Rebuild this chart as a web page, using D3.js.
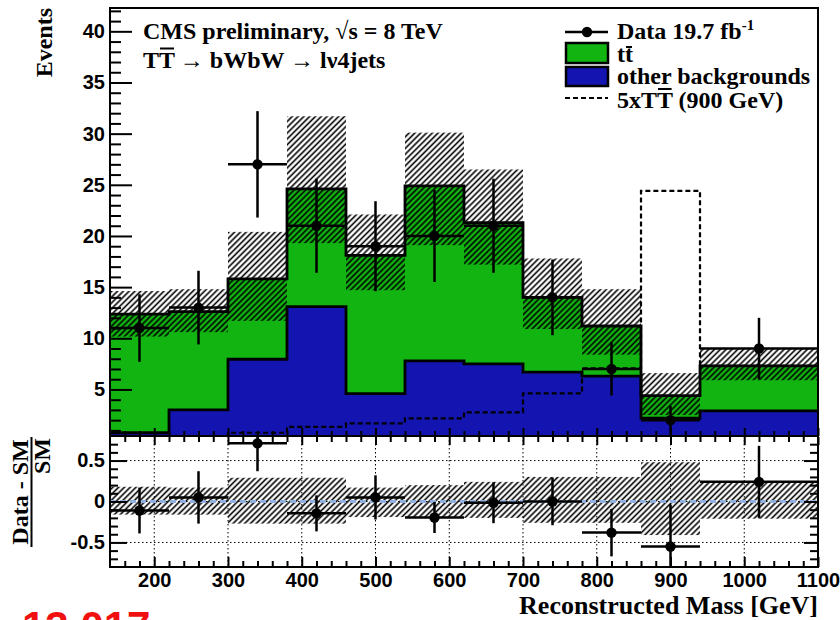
<!DOCTYPE html>
<html><head><meta charset="utf-8">
<script src="https://cdn.jsdelivr.net/npm/d3@7"></script>
<style>body{margin:0;background:#fff}svg{display:block}</style>
</head><body>
<svg id="c" width="840" height="620"></svg>
<script>
// Reconstructed T-quark mass, l+jets channel
const binEdges   = [140, 220, 300, 380, 460, 540, 620, 700, 780, 860, 940, 1100];
const otherBkg   = [0.77, 3.0, 7.95, 13.1, 4.6, 7.8, 7.5, 6.7, 6.3, 2.2, 2.9];
const ttbar      = [11.6, 9.6, 7.85, 11.5, 13.5, 17.1, 13.8, 7.3, 4.9, 2.2, 4.4];
const bkgErrUp   = [2.25, 2.2, 4.6, 7.1, 4.0, 5.2, 5.2, 3.8, 3.6, 2.2, 1.7];
const bkgErrDown = [2.2, 2.0, 4.1, 5.3, 3.4, 5.8, 4.1, 3.1, 2.8, 1.9, 1.4];
const signal5x   = [0.1, 0.2, 0.77, 1.35, 1.69, 2.18, 2.76, 4.62, 7.07, 24.4, 7.3];
const dataCounts = [11, 13, 27, 21, 19, 20, 21, 14, 7, 2, 9];
const dataErr    = [3.3, 3.6, 5.2, 4.6, 4.4, 4.5, 4.6, 3.7, 2.6, 1.4, 3.0];
// (Data - SM) / SM
const ratio      = [-0.11, 0.05, 0.71, -0.145, 0.05, -0.195, -0.015, 0.0, -0.38, -0.55, 0.24];
const ratioErr   = [0.28, 0.32, 0.34, 0.22, 0.27, 0.19, 0.25, 0.29, 0.29, 0.51, 0.44];
const ratioBandUp   = [0.18, 0.17, 0.29, 0.29, 0.17, 0.2, 0.24, 0.30, 0.30, 0.48, 0.24];
const ratioBandDown = [0.16, 0.16, 0.27, 0.27, 0.19, 0.19, 0.2, 0.26, 0.26, 0.41, 0.21];
// axis ticks
const eventTicks = [5, 10, 15, 20, 25, 30, 35, 40];
const massTicks  = [200, 300, 400, 500, 600, 700, 800, 900, 1000, 1100];
const ratioTicks = [-0.5, 0, 0.5];

const GREEN = "#12b412", BLUE = "#1414b0";
const SERIF = "'Liberation Serif','Times New Roman',serif";
const SANS  = "'Liberation Sans',Arial,Helvetica,sans-serif";

const svg = d3.select("#c");
const x  = d3.scaleLinear().domain([140, 1100]).range([110, 818]);
const yT = d3.scaleLinear().domain([0.45, 42.28]).range([436, 8]);
const yB = d3.scaleLinear().domain([-0.8, 0.8]).range([567, 436]);

const defs = svg.append("defs");
defs.append("clipPath").attr("id", "clipTop").append("rect")
  .attr("x", 110).attr("y", 8).attr("width", 708).attr("height", 428);
defs.append("clipPath").attr("id", "clipBot").append("rect")
  .attr("x", 110).attr("y", 436).attr("width", 708).attr("height", 131);
const pat = defs.append("pattern").attr("id", "hatch")
  .attr("patternUnits", "userSpaceOnUse").attr("width", 4.1).attr("height", 10)
  .attr("patternTransform", "rotate(45)");
pat.append("line").attr("x1", 2).attr("x2", 2).attr("y1", 0).attr("y2", 10)
  .attr("stroke", "#000").attr("stroke-width", 1.6);

const rows = binEdges.slice(0, -1).map((lo, i) => ({
  lo, hi: binEdges[i + 1], mid: (lo + binEdges[i + 1]) / 2,
  other: otherBkg[i], ttbar: ttbar[i]
}));
const stack = d3.stack().keys(["other", "ttbar"])(rows);
const totals = stack[1].map(d => d[1]);

function stepPath(vals, ys) {
  const pts = vals.map((v, i) => [x(binEdges[i]), ys(v)]);
  pts.push([x(binEdges[binEdges.length - 1]), ys(vals[vals.length - 1])]);
  return d3.line().curve(d3.curveStepAfter)(pts);
}

// ---------- upper panel ----------
const upper = svg.append("g").attr("clip-path", "url(#clipTop)");
const fills = { other: BLUE, ttbar: GREEN };
stack.forEach(layer => {
  upper.append("g").selectAll("rect").data(layer).join("rect")
    .attr("x", d => x(d.data.lo)).attr("width", d => x(d.data.hi) - x(d.data.lo))
    .attr("y", d => yT(d[1])).attr("height", d => yT(d[0]) - yT(d[1]))
    .attr("fill", fills[layer.key]);
});
stack.forEach(layer => {
  upper.append("path").attr("d", stepPath(layer.map(d => d[1]), yT))
    .attr("fill", "none").attr("stroke", "#000").attr("stroke-width", 2.8);
});
upper.append("path").attr("d", stepPath(signal5x, yT))
  .attr("fill", "none").attr("stroke", "#000").attr("stroke-width", 2.2)
  .attr("stroke-dasharray", "5,3");
upper.append("g").selectAll("rect").data(rows).join("rect")
  .attr("x", d => x(d.lo)).attr("width", d => x(d.hi) - x(d.lo))
  .attr("y", (d, i) => yT(totals[i] + bkgErrUp[i]))
  .attr("height", (d, i) => yT(totals[i] - bkgErrDown[i]) - yT(totals[i] + bkgErrUp[i]))
  .attr("fill", "url(#hatch)");

function drawPoints(g, vals, errs, ys) {
  const pg = g.append("g").attr("stroke", "#000").attr("stroke-width", 2.5);
  rows.forEach((d, i) => {
    pg.append("line").attr("x1", x(d.lo)).attr("x2", x(d.hi))
      .attr("y1", ys(vals[i])).attr("y2", ys(vals[i]));
    pg.append("line").attr("x1", x(d.mid)).attr("x2", x(d.mid))
      .attr("y1", ys(vals[i] - errs[i])).attr("y2", ys(vals[i] + errs[i]));
  });
  g.append("g").selectAll("circle").data(rows).join("circle")
    .attr("cx", d => x(d.mid)).attr("cy", (d, i) => ys(vals[i])).attr("r", 5.2)
    .attr("fill", "#000");
}
drawPoints(upper, dataCounts, dataErr, yT);

// ---------- lower panel ----------
const lower = svg.append("g").attr("clip-path", "url(#clipBot)");
const grid = lower.append("g").attr("stroke", "#000").attr("stroke-width", 1)
  .attr("stroke-dasharray", "1.5,2.5");
massTicks.forEach(m => grid.append("line").attr("x1", x(m)).attr("x2", x(m))
  .attr("y1", 436).attr("y2", 567));
ratioTicks.forEach(r => grid.append("line").attr("x1", 110).attr("x2", 818)
  .attr("y1", yB(r)).attr("y2", yB(r)));
lower.append("g").selectAll("rect").data(rows).join("rect")
  .attr("x", d => x(d.lo)).attr("width", d => x(d.hi) - x(d.lo))
  .attr("y", (d, i) => yB(ratioBandUp[i]))
  .attr("height", (d, i) => yB(-ratioBandDown[i]) - yB(ratioBandUp[i]))
  .attr("fill", "url(#hatch)");
lower.append("line").attr("x1", 110).attr("x2", 818).attr("y1", yB(0)).attr("y2", yB(0))
  .attr("stroke", "#8fb0e0").attr("stroke-width", 3).attr("stroke-dasharray", "6,4");
drawPoints(lower, ratio, ratioErr, yB);

// ---------- axes ----------
function styleAxis(g, size) {
  g.select(".domain").remove();
  g.selectAll(".tick line").attr("stroke", "#000").attr("stroke-width", 2);
  g.selectAll("text").attr("font-family", SANS).attr("font-weight", "bold")
    .attr("font-size", size || 20).attr("fill", "#000");
}
const minorEvents = d3.range(1, 43).filter(v => v % 5 !== 0);
const minorMass = d3.range(160, 1100, 20).filter(v => v % 100 !== 0);
const minorRatio = d3.range(-0.7, 0.75, 0.1).map(v => Math.round(v * 10) / 10)
  .filter(v => Math.abs(v) > 1e-9 && Math.abs(Math.abs(v) - 0.5) > 1e-9);

svg.append("g").attr("transform", "translate(110,0)")
  .call(d3.axisLeft(yT).tickValues(eventTicks).tickSize(-22).tickSizeOuter(0).tickPadding(5))
  .call(g => styleAxis(g));
svg.append("g").attr("transform", "translate(110,0)")
  .call(d3.axisLeft(yT).tickValues(minorEvents).tickSize(-11).tickSizeOuter(0).tickFormat(""))
  .call(g => styleAxis(g));
svg.append("g").attr("transform", "translate(0,436)")
  .call(d3.axisBottom(x).tickValues(massTicks).tickSize(-8).tickSizeOuter(0).tickFormat(""))
  .call(g => styleAxis(g));
svg.append("g").attr("transform", "translate(0,436)")
  .call(d3.axisBottom(x).tickValues(minorMass).tickSize(-5).tickSizeOuter(0).tickFormat(""))
  .call(g => styleAxis(g));

svg.append("g").attr("transform", "translate(0,567)")
  .call(d3.axisBottom(x).tickValues(massTicks).tickSize(-10).tickSizeOuter(0).tickPadding(6)
    .tickFormat(d3.format("d")))
  .call(g => styleAxis(g));
svg.append("g").attr("transform", "translate(0,567)")
  .call(d3.axisBottom(x).tickValues(minorMass).tickSize(-6).tickSizeOuter(0).tickFormat(""))
  .call(g => styleAxis(g));
svg.append("g").attr("transform", "translate(0,437)")
  .call(d3.axisTop(x).tickValues(massTicks).tickSize(-8).tickSizeOuter(0).tickFormat(""))
  .call(g => styleAxis(g));
svg.append("g").attr("transform", "translate(0,437)")
  .call(d3.axisTop(x).tickValues(minorMass).tickSize(-5).tickSizeOuter(0).tickFormat(""))
  .call(g => styleAxis(g));
svg.append("g").attr("transform", "translate(110,0)")
  .call(d3.axisLeft(yB).tickValues(ratioTicks).tickSize(-17).tickSizeOuter(0).tickPadding(5)
    .tickFormat(d => d === 0 ? "0" : d3.format(".1f")(d).replace("\u2212", "-")))
  .call(g => styleAxis(g));
svg.append("g").attr("transform", "translate(110,0)")
  .call(d3.axisLeft(yB).tickValues(minorRatio).tickSize(-8).tickSizeOuter(0).tickFormat(""))
  .call(g => styleAxis(g));
svg.append("g").attr("transform", "translate(818,0)")
  .call(d3.axisRight(yB).tickValues(ratioTicks).tickSize(-14).tickSizeOuter(0).tickFormat(""))
  .call(g => styleAxis(g));
svg.append("g").attr("transform", "translate(818,0)")
  .call(d3.axisRight(yB).tickValues(minorRatio).tickSize(-8).tickSizeOuter(0).tickFormat(""))
  .call(g => styleAxis(g));

// frames
svg.append("rect").attr("x", 110).attr("y", 8).attr("width", 708).attr("height", 428)
  .attr("fill", "none").attr("stroke", "#000").attr("stroke-width", 2);
svg.append("rect").attr("x", 110).attr("y", 436).attr("width", 708).attr("height", 131)
  .attr("fill", "none").attr("stroke", "#000").attr("stroke-width", 2);

// ---------- text ----------
function stext(x0, y0, str, size, anchor) {
  return svg.append("text").attr("x", x0).attr("y", y0).text(str)
    .attr("font-family", SERIF).attr("font-weight", "bold")
    .attr("font-size", size).attr("text-anchor", anchor || "start").attr("fill", "#000");
}
function overline(t, idx, baseline, rise) {
  const e = t.node().getExtentOfChar(idx);
  svg.append("line").attr("x1", e.x + 1).attr("x2", e.x + e.width - 1)
    .attr("y1", baseline - rise).attr("y2", baseline - rise)
    .attr("stroke", "#000").attr("stroke-width", 2);
}

stext(143, 39, "CMS preliminary, \u221As = 8 TeV", 24);
const t2 = stext(143, 68, "TT\u2009\u2192 bWbW \u2192 l\u03BD4jets", 24);
overline(t2, 1, 68, 19.5);

// axis titles
stext(0, 0, "Events", 24, "end").attr("transform", "translate(52,8) rotate(-90)");
stext(818, 614, "Reconstructed Mass [GeV]", 26, "end");
stext(0, 0, "Data - SM", 24, "middle").attr("transform", "translate(28,492) rotate(-90)");
svg.append("line").attr("x1", 31.5).attr("x2", 31.5).attr("y1", 437).attr("y2", 547)
  .attr("stroke", "#000").attr("stroke-width", 2);
stext(0, 0, "SM", 24, "end").attr("transform", "translate(50,438) rotate(-90)");

// legend
const lg = svg.append("g");
lg.append("line").attr("x1", 565).attr("x2", 608).attr("y1", 32).attr("y2", 32)
  .attr("stroke", "#000").attr("stroke-width", 2.5);
lg.append("circle").attr("cx", 587).attr("cy", 32).attr("r", 5.2).attr("fill", "#000");
const ld = stext(617, 39, "Data 19.7 fb", 24);
ld.append("tspan").attr("font-size", 15).attr("dy", -9).text("-1");
lg.append("rect").attr("x", 566).attr("y", 43).attr("width", 42).attr("height", 20)
  .attr("fill", GREEN).attr("stroke", "#000").attr("stroke-width", 2.5);
const ltt = stext(617, 62, "tt", 24);
overline(ltt, 1, 62, 15);
lg.append("rect").attr("x", 566).attr("y", 67).attr("width", 42).attr("height", 19)
  .attr("fill", BLUE).attr("stroke", "#000").attr("stroke-width", 2.5);
stext(617, 84, "other backgrounds", 24);
lg.append("line").attr("x1", 565).attr("x2", 608).attr("y1", 98).attr("y2", 98)
  .attr("stroke", "#000").attr("stroke-width", 2.2).attr("stroke-dasharray", "5,3");
const lsig = stext(617, 108, "5xTT (900 GeV)", 24);
overline(lsig, 3, 108, 19);

// footer tag
svg.append("text").attr("x", 22).attr("y", 641).text("13.017")
  .attr("font-family", SANS).attr("font-weight", "bold").attr("font-size", 42)
  .attr("fill", "#f01010");
</script>
</body></html>
